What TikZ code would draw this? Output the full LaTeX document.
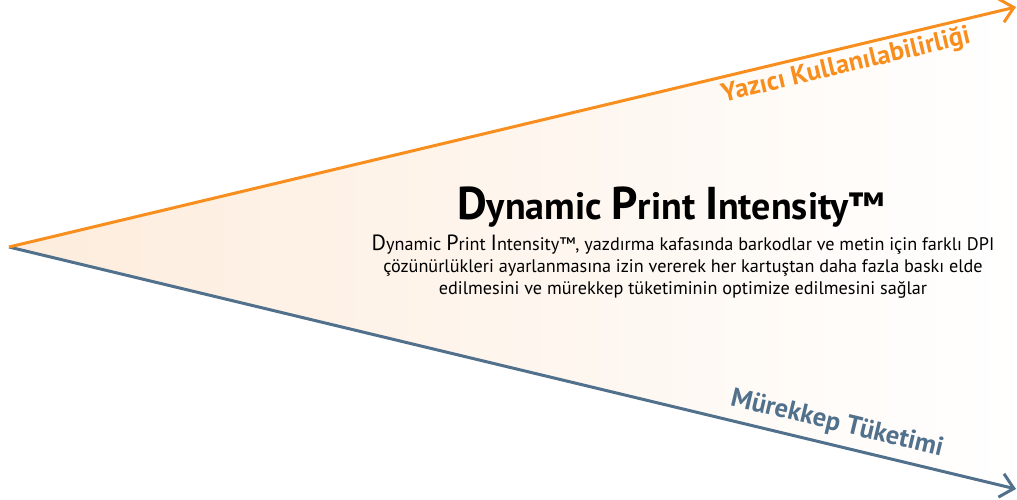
\documentclass[tikz,border=0pt]{standalone}
\usepackage{fontspec}
\setmainfont{PT Sans}
\usetikzlibrary{arrows.meta}
\definecolor{orng}{RGB}{247,142,30}
\definecolor{slate}{RGB}{80,112,140}
\definecolor{peach}{RGB}{253,236,220}
\newcommand{\enlcap}[2]{{\fontsize{#1}{#1}\selectfont #2}}
\tikzset{
  edge/.style={line width=3pt, -{Straight Barb[length=13pt,width=24pt]}},
  axislabel/.style={font=\bfseries\fontsize{26.5}{26.5}\selectfont, inner sep=0pt},
}
\begin{document}
\begin{tikzpicture}[x=1pt,y=-1pt]
\useasboundingbox (0,0) rectangle (1017,499);
\coordinate (apex) at (9,247);
\coordinate (top) at (1016,7);
\coordinate (bot) at (1016,489);
\shade[left color=peach, middle color=peach!55, right color=white] (apex) -- (top) -- (bot) -- cycle;
\draw[edge, slate] (apex) -- (bot);
\draw[edge, orng] (apex) -- (top);
\node[axislabel, orng, rotate=13.4] (lab1) at (846,66) {Yazıcı Kullanılabilirliği};
\node[axislabel, slate, rotate=-13.5] (lab2) at (837,424) {Mürekkep Tüketimi};
\node[font=\bfseries\fontsize{38}{38}\selectfont, inner sep=0pt, anchor=base] (title) at (671,219)
  {\enlcap{46}{D}ynamic \enlcap{46}{P}rint \enlcap{46}{I}ntensity™};
\node[font=\fontsize{18.2}{22}\selectfont, align=center, inner sep=0pt, anchor=north] (body) at (683,235)
  {\enlcap{22}{D}ynamic \enlcap{22}{P}rint \enlcap{22}{I}ntensity™, yazdırma kafasında barkodlar ve metin için farklı DPI\\
   çözünürlükleri ayarlanmasına izin vererek her kartuştan daha fazla baskı elde\\
   edilmesini ve mürekkep tüketiminin optimize edilmesini sağlar};
\end{tikzpicture}
\end{document}
